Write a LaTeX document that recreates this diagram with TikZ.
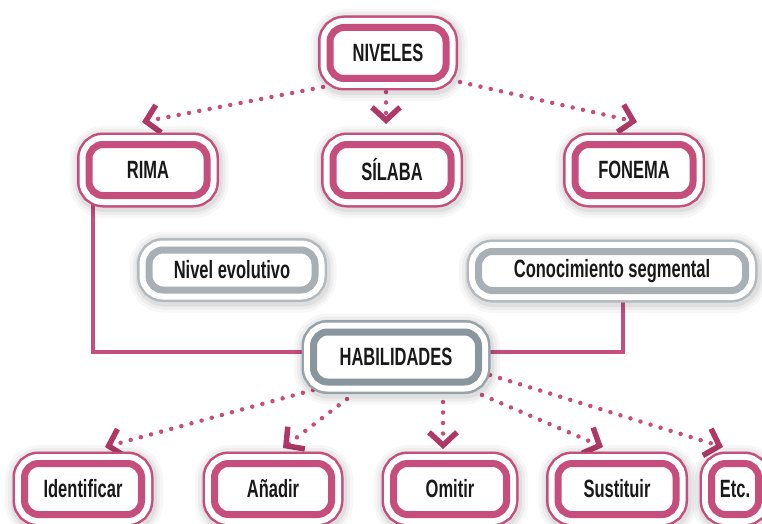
\documentclass[tikz,border=0pt]{standalone}
\usepackage{fontspec}
\setmainfont{Liberation Sans}[FakeStretch=0.66]
\usetikzlibrary{arrows.meta}
\definecolor{pk}{RGB}{198,78,124}
\definecolor{pkd}{RGB}{176,56,102}
\definecolor{gr}{RGB}{168,176,182}
\definecolor{grl}{RGB}{178,186,192}
\definecolor{grd}{RGB}{138,150,158}
\definecolor{grdl}{RGB}{150,161,168}
\pgfdeclarelayer{bg}
\pgfsetlayers{bg,main}
\tikzset{
  ring/.style 2 args={rounded corners=14pt, fill=white, line width=7pt, draw=#2,
    preaction={draw=black, draw opacity=0.03, line width=41pt, transform canvas={shift={(1pt,-2pt)}}},
    preaction={draw=black, draw opacity=0.04, line width=35pt, transform canvas={shift={(1pt,-2pt)}}},
    preaction={draw=black, draw opacity=0.06, line width=29pt, transform canvas={shift={(1pt,-2pt)}}},
    preaction={draw=#1, line width=24pt},
    preaction={draw=white, line width=19pt},
    inner sep=0pt, text=black!90, font=\bfseries\fontsize{25}{25}\selectfont},
  pinkbox/.style={ring={pk}{pk}, minimum height=51pt},
  greybox/.style={ring={grl}{gr}, minimum height=40pt},
  habbox/.style={ring={grdl}{grd}, minimum height=50pt},
  dotlink/.style={draw=pk, line width=4.5pt, line cap=round, dash pattern=on 0pt off 10.5pt,
    -{Straight Barb[length=13pt,width=28pt,line width=5.5pt,color=pkd]}},
  solidlink/.style={draw=pk, line width=4pt},
}
\begin{document}
\begin{tikzpicture}[x=1pt,y=-1pt]
\useasboundingbox (0,0) rectangle (762,524);
\clip (0,0) rectangle (762,524);
% top level
\node[pinkbox, minimum width=116pt] (NIV) at (388,53) {NIVELES};
\node[pinkbox, minimum width=118pt] (RIMA) at (148,170) {RIMA};
\node[pinkbox, minimum width=118pt] (SIL) at (392,170) {SÍLABA};
\node[pinkbox, minimum width=118pt] (FON) at (634,170) {FONEMA};
% middle
\node[greybox, minimum width=166pt] (NEV) at (232,270) {Nivel evolutivo};
\node[greybox, minimum width=267pt, minimum height=39pt] (CON) at (612,271) {Conocimiento segmental};
\node[habbox, minimum width=165pt] (HAB) at (396,357) {HABILIDADES};
% bottom
\node[pinkbox, minimum width=117pt] (IDE) at (83,489) {Identificar};
\node[pinkbox, minimum width=117pt] (ANA) at (273,489) {Añadir};
\node[pinkbox, minimum width=113pt] (OMI) at (450,489) {Omitir};
\node[pinkbox, minimum width=118pt] (SUS) at (617,489) {Sustituir};
\node[pinkbox, minimum width=47pt] (ETC) at (735,489) {Etc.};
\begin{pgfonlayer}{bg}
\draw[solidlink] ([xshift=-55pt]RIMA.center) |- ([yshift=5pt]HAB.center);
\draw[solidlink] ([xshift=11pt]CON.center) |- ([yshift=5pt]HAB.center);
\draw[dotlink] ([shift={(-65pt,-34pt)}]NIV.center) -- ([shift={(-6pt,48pt)}]RIMA.center);
\draw[dotlink] ([shift={(-2pt,-39pt)}]NIV.center) -- ([shift={(-6pt,46pt)}]SIL.center);
\draw[dotlink] ([shift={(72pt,-29pt)}]NIV.center) -- ([shift={(3pt,48pt)}]FON.center);
\draw[dotlink] ([shift={(-83pt,-33pt)}]HAB.center) -- ([shift={(22pt,42pt)}]IDE.center);
\draw[dotlink] ([shift={(-49pt,-42pt)}]HAB.center) -- ([shift={(10pt,41pt)}]ANA.center);
\draw[dotlink] ([shift={(47pt,-45pt)}]HAB.center) -- ([shift={(-7pt,40pt)}]OMI.center);
\draw[dotlink] ([shift={(86pt,-38pt)}]HAB.center) -- ([shift={(-14pt,42pt)}]SUS.center);
\draw[dotlink] ([shift={(94pt,-18pt)}]HAB.center) -- ([shift={(-12pt,42pt)}]ETC.center);
\end{pgfonlayer}
\end{tikzpicture}
\end{document}
